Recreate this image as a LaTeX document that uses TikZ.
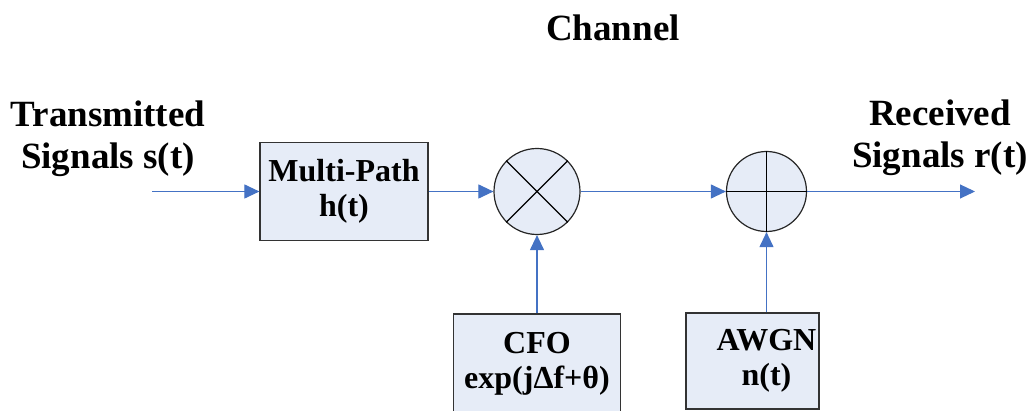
\documentclass[tikz,border=0pt]{standalone}
\usepackage{fontspec}
\setmainfont{Liberation Serif}
\usetikzlibrary{arrows.meta}
\definecolor{sig}{RGB}{68,114,196}
\definecolor{blockfill}{RGB}{230,236,247}
\begin{document}
\begin{tikzpicture}[x=1pt,y=-1pt,
  blk/.style={draw=black!80, line width=1.2pt, fill=blockfill, align=center, inner sep=0pt,
    font=\fontsize{32}{35}\selectfont\bfseries},
  blktext/.style={align=center, inner sep=0pt, font=\fontsize{32}{35}\selectfont\bfseries},
  junction/.style={circle, draw=black!85, line width=1.2pt, fill=blockfill, inner sep=0pt},
  sigline/.style={draw=sig, line width=1.1pt},
  sigarrow/.style={sigline, -{Triangle[length=15pt,width=14pt]}},
  lbl/.style={align=center, font=\fontsize{37}{42}\selectfont\bfseries}]
\useasboundingbox (0,0) rectangle (1034,411);

% title
\node[lbl] (title) at (613,28) {Channel};

% main chain
\node[blk, minimum width=168pt, minimum height=98pt] (mp) at (344,191.5) {Multi-Path\\h(t)};
\node[junction, minimum size=86pt] (mul) at (537,191.5) {};
\draw[line width=1.2pt] (mul.45) -- (mul.225) (mul.135) -- (mul.315);
\node[junction, minimum size=80pt] (add) at (766.5,191.5) {};
\draw[line width=1.2pt] (add.north) -- (add.south) (add.west) -- (add.east);

% side inputs
\node[blk, minimum width=167pt, minimum height=100pt] (cfo) at (537,364) {CFO\\exp(jΔf+θ)};
\node[blk, minimum width=133pt, minimum height=96pt] (awgn) at (752.5,361) {};
\node[blktext] (awgntext) at (766.5,361) {AWGN\\n(t)};

% signal labels
\node[lbl] (tx) at (108,139) {Transmitted\\Signals s(t)};
\node[lbl] (rx) at (940,138) {Received\\Signals r(t)};

% connectors
\coordinate (in) at (152,191.5);
\coordinate (out) at (975,191.5);
\draw[sigarrow] (in) -- (mp.west);
\draw[sigarrow] (mp.east) -- (mul.west);
\draw[sigarrow] (mul.east) -- (add.west);
\draw[sigarrow] (add.east) -- (out);
\draw[sigarrow] (cfo.north) -- (mul.south);
\draw[sigarrow] (awgn.north -| add.south) -- (add.south);
\end{tikzpicture}
\end{document}
